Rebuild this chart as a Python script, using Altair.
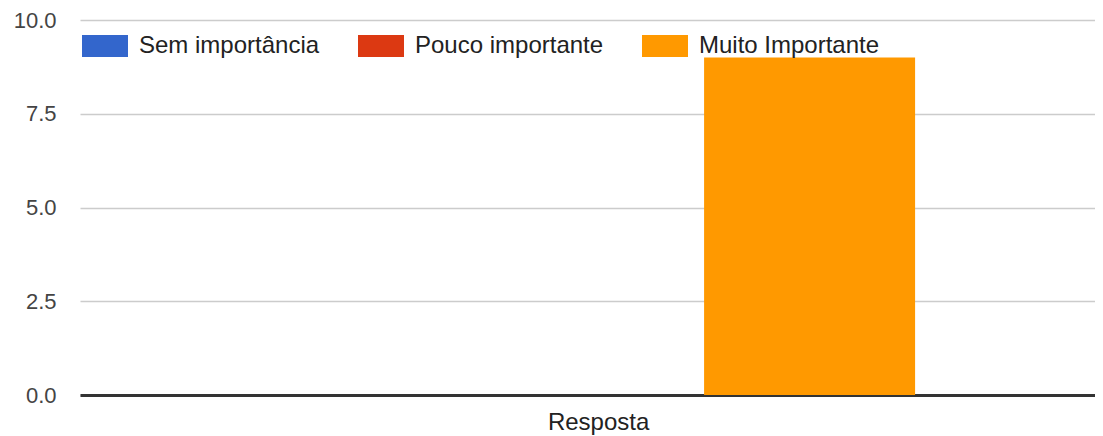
import altair as alt
import pandas as pd

# Data
categories = ["Resposta"]
series = ["Sem importância", "Pouco importante", "Muito Importante"]
values = [0, 0, 9]
colors = ["#3366cc", "#dc3912", "#ff9900"]
y_ticks = [0, 2.5, 5, 7.5, 10]

df = pd.DataFrame({
    "cat": [categories[0]] * len(series),
    "serie": series,
    "valor": values,
})

FONT = "Liberation Sans"
RECT = "M-1,-0.478H1V0.478H-1Z"

chart = alt.Chart(df).mark_bar().encode(
    x=alt.X(
        "cat:N",
        title=None,
        scale=alt.Scale(paddingInner=0, paddingOuter=0.3017, align=0.529),
        axis=alt.Axis(
            labelAngle=0, ticks=False, tickSize=0, domain=True,
            domainColor="#333333", domainWidth=3,
            labelFontSize=24, labelColor="#222222", labelFont=FONT,
            labelPadding=15, grid=False,
        ),
    ),
    xOffset=alt.XOffset("serie:N", sort=series,
                        scale=alt.Scale(paddingInner=0, paddingOuter=0)),
    y=alt.Y(
        "valor:Q",
        title=None,
        scale=alt.Scale(domain=[0, 10], nice=False),
        axis=alt.Axis(
            values=y_ticks, format=".1f", domain=False, ticks=False, tickSize=0,
            gridColor="#cccccc", gridWidth=1.5,
            labelFontSize=22, labelColor="#444444", labelFont=FONT,
            labelPadding=24,
        ),
    ),
    color=alt.Color(
        "serie:N",
        sort=series,
        scale=alt.Scale(domain=series, range=colors),
        legend=alt.Legend(
            title=None, orient="none", direction="horizontal",
            legendX=2, legendY=3,
            symbolType=RECT, symbolSize=2116, symbolStrokeWidth=0,
            labelFontSize=24, labelFont=FONT, labelColor="#222222",
            labelOffset=11, columnPadding=38, padding=0,
            labelLimit=400,
        ),
    ),
).properties(
    width=1015,
    height=375,
    padding={"left": 72, "top": 12, "right": 0, "bottom": 41},
    autosize=alt.AutoSizeParams(type="none"),
).configure_view(stroke=None)

chart.save("out.html", embed_options={"renderer": "svg", "actions": False})
